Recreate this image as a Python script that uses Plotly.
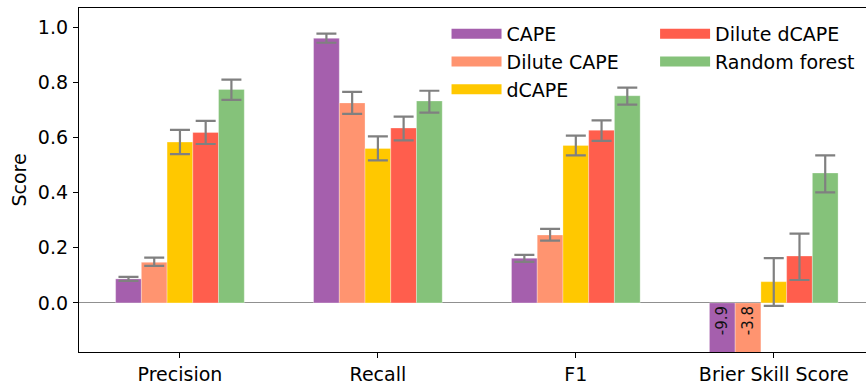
import plotly.graph_objects as go

metrics = ["Precision", "Recall", "F1", "Brier Skill Score"]
series_names = ["CAPE", "Dilute CAPE", "dCAPE", "Dilute dCAPE", "Random forest"]

cape = [0.087, 0.959, 0.162, -9.9]
dilute_cape = [0.147, 0.725, 0.246, -3.8]
dcape = [0.583, 0.560, 0.571, 0.077]
dilute_dcape = [0.618, 0.634, 0.626, 0.170]
random_forest = [0.774, 0.732, 0.751, 0.471]

cape_err_up = [0.007, 0.017, 0.012, 0.0]
cape_err_down = [0.007, 0.016, 0.013, 0.0]
dilute_cape_err_up = [0.017, 0.040, 0.022, 0.0]
dilute_cape_err_down = [0.013, 0.040, 0.020, 0.0]
dcape_err_up = [0.044, 0.044, 0.035, 0.085]
dcape_err_down = [0.044, 0.043, 0.036, 0.088]
dilute_dcape_err_up = [0.042, 0.041, 0.036, 0.081]
dilute_dcape_err_down = [0.042, 0.045, 0.039, 0.087]
random_forest_err_up = [0.035, 0.037, 0.029, 0.064]
random_forest_err_down = [0.038, 0.042, 0.032, 0.070]

colors = ["#A55FAD", "#FF9470", "#FFC800", "#FF5E4D", "#85C27A"]

values = [cape, dilute_cape, dcape, dilute_dcape, random_forest]
errs_up = [cape_err_up, dilute_cape_err_up, dcape_err_up, dilute_dcape_err_up, random_forest_err_up]
errs_down = [cape_err_down, dilute_cape_err_down, dcape_err_down, dilute_dcape_err_down, random_forest_err_down]

FONT = "DejaVu Sans"
FS = 19
fig = go.Figure()

for i, (name, vals, eu, ed, col) in enumerate(zip(series_names, values, errs_up, errs_down, colors)):
    labels = [f"{v:.1f}" if v < 0 else "" for v in vals]
    fig.add_trace(go.Bar(
        x=metrics, y=vals, name=name, showlegend=False,
        marker=dict(color=col, line=dict(color="rgba(255,255,255,0.5)", width=0.6)),
        error_y=dict(type="data", symmetric=False, array=eu, arrayminus=ed,
                     color="#808080", thickness=2.2, width=10),
        text=labels, textposition="inside", insidetextanchor="start",
        textangle=-90, textfont=dict(family=FONT, size=15, color="#111111"),
        cliponaxis=True,
    ))

# legend entries (wide swatches)
for i, (name, col) in enumerate(zip(series_names, colors)):
    fig.add_trace(go.Scatter(
        x=[None], y=[None], mode="lines", name=name,
        line=dict(color=col, width=13),
        legend="legend" if i < 3 else "legend2",
        legendgroup=name,
    ))

fig.update_layout(
    width=866, height=385,
    margin=dict(l=79, r=0, t=8, b=33),
    plot_bgcolor="white", paper_bgcolor="white",
    font=dict(family=FONT, size=FS, color="black"),
    barmode="group", bargap=0.35, bargroupgap=0,
    xaxis=dict(
        range=[-0.51, 3.466], showline=True, linecolor="black", linewidth=1.3,
        mirror=True, ticks="outside", ticklen=5, tickwidth=1.2, tickcolor="black",
        showgrid=False, tickfont=dict(family=FONT, size=FS), automargin=False,
    ),
    yaxis=dict(
        range=[-0.178, 1.069], showline=True, linecolor="black", linewidth=1.3,
        ticks="outside", ticklen=5, tickwidth=1.2, tickcolor="black",
        tickvals=[0, 0.2, 0.4, 0.6, 0.8, 1.0], tickformat=".1f",
        showgrid=False, zeroline=True, zerolinecolor="#909090", zerolinewidth=1,
        title=dict(text="Score", font=dict(family=FONT, size=FS), standoff=6),
        tickfont=dict(family=FONT, size=FS), ticklabelstandoff=1, automargin=False,
    ),
    legend=dict(x=0.467, y=0.98, xanchor="left", yanchor="top",
                bgcolor="rgba(0,0,0,0)", font=dict(family=FONT, size=FS),
                itemwidth=50, tracegroupgap=0),
    legend2=dict(x=0.732, y=0.98, xanchor="left", yanchor="top",
                 bgcolor="rgba(0,0,0,0)", font=dict(family=FONT, size=FS),
                 itemwidth=50, tracegroupgap=0),
)

fig.write_html("out.html", post_script="document.body.style.margin='0';",
               config={"displayModeBar": False})
